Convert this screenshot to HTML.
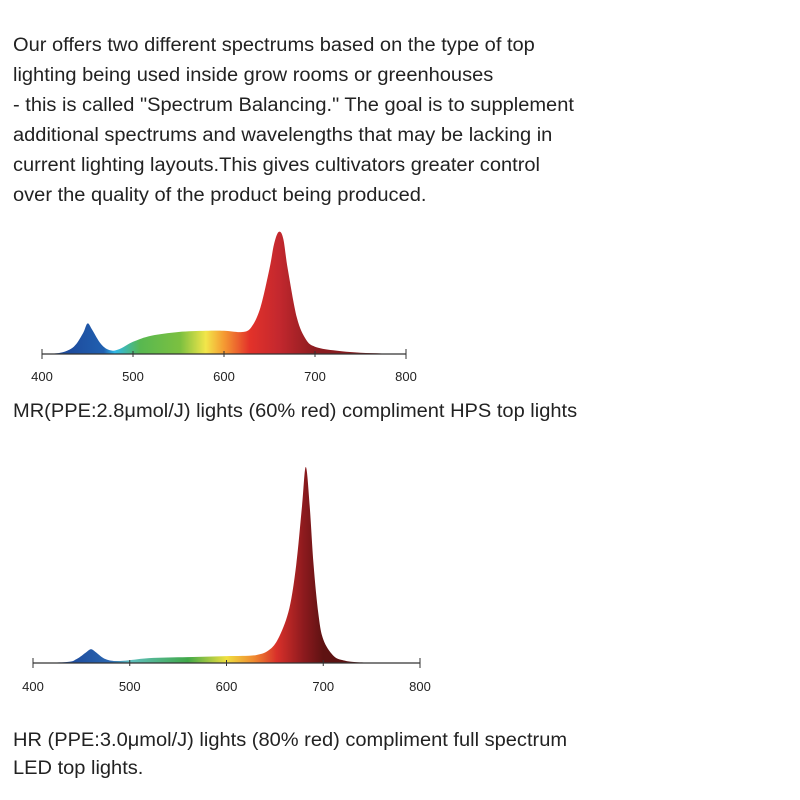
<!DOCTYPE html>
<html><head><meta charset="utf-8">
<style>
body{margin:0;width:800px;height:800px;background:#fff;position:relative;overflow:hidden;font-family:"Liberation Sans",sans-serif;color:#222}
.t{position:absolute;left:13px;font-size:19px;white-space:nowrap;transform:scaleX(1.055);transform-origin:0 0;line-height:30px}
svg{position:absolute;left:0;top:0}
</style></head><body>
<div class="t" style="top:31px">Our offers two different spectrums based on the type of top</div>
<div class="t" style="top:61px">lighting being used inside grow rooms or greenhouses</div>
<div class="t" style="top:91px">- this is called "Spectrum Balancing." The goal is to supplement</div>
<div class="t" style="top:121px">additional spectrums and wavelengths that may be lacking in</div>
<div class="t" style="top:151px">current lighting layouts.This gives cultivators greater control</div>
<div class="t" style="top:181px">over the quality of the product being produced.</div>
<div class="t" style="top:397px">MR(PPE:2.8μmol/J) lights (60% red) compliment HPS top lights</div>
<div class="t" style="top:726px">HR (PPE:3.0μmol/J) lights (80% red) compliment full spectrum</div>
<div class="t" style="top:754px">LED top lights.</div>
<svg id="svg" width="800" height="800">
<defs>
<linearGradient id="g1" gradientUnits="userSpaceOnUse" x1="42" x2="406" y1="0" y2="0">
<stop offset="0.08" stop-color="#1e4c9e"/><stop offset="0.17" stop-color="#2060b0"/><stop offset="0.2" stop-color="#30b8e8"/>
<stop offset="0.27" stop-color="#58b850"/><stop offset="0.38" stop-color="#7cc040"/><stop offset="0.45" stop-color="#f2e64a"/>
<stop offset="0.5" stop-color="#f59a32"/><stop offset="0.57" stop-color="#e3322a"/><stop offset="0.65" stop-color="#c4282e"/>
<stop offset="0.75" stop-color="#8c1c20"/><stop offset="1" stop-color="#7a1a1e"/></linearGradient>
<linearGradient id="g2" gradientUnits="userSpaceOnUse" x1="33" x2="420" y1="0" y2="0">
<stop offset="0.1" stop-color="#1e4c9e"/><stop offset="0.2" stop-color="#2a66b0"/><stop offset="0.25" stop-color="#60c0c0"/>
<stop offset="0.4" stop-color="#40a848"/><stop offset="0.5" stop-color="#f0e040"/><stop offset="0.57" stop-color="#f08a30"/>
<stop offset="0.63" stop-color="#d8302a"/><stop offset="0.7" stop-color="#8c1a1e"/><stop offset="0.75" stop-color="#5e1212"/><stop offset="1" stop-color="#501010"/></linearGradient>
</defs>
</svg>
<script>
const ticks=[400,500,600,700,800];
const mrWl=[400,420,435,445,450,455,465,475,485,500,520,550,580,600,620,630,640,650,655,660,665,670,680,690,700,720,750,780,800];
const mrVal=[0,1,6,17,25,20,8,3,4,10,15,18,19,19,18,22,38,70,90,100,95,70,30,12,6,3,1,0.3,0];
const hrWl=[400,435,445,455,460,465,475,490,520,560,600,630,645,655,665,672,678,682,686,690,695,700,710,720,740,800];
const hrVal=[0,0.5,2,5.5,7,5.5,2,1,2.5,3,3.5,4,7,14,28,50,80,100,80,50,25,12,4,1.5,0.3,0];
const NS='http://www.w3.org/2000/svg';
const svg=document.getElementById('svg');
function draw(wl,val,x0,x1,base,h,grad,labY,nm){
  const x=w=>x0+(w-400)/400*(x1-x0), y=v=>base-v/100*h;
  const P=wl.map((w,i)=>[x(w),y(val[i])]);
  let d='M'+P[0][0]+','+base+' L'+P[0][0]+','+P[0][1];
  for(let i=0;i<P.length-1;i++){
    const p0=P[Math.max(0,i-1)],p1=P[i],p2=P[i+1],p3=P[Math.min(P.length-1,i+2)];
    const c1=[p1[0]+(p2[0]-p0[0])/6,p1[1]+(p2[1]-p0[1])/6];
    const c2=[p2[0]-(p3[0]-p1[0])/6,p2[1]-(p3[1]-p1[1])/6];
    d+=' C'+c1[0].toFixed(1)+','+Math.min(base,c1[1]).toFixed(1)+' '+c2[0].toFixed(1)+','+Math.min(base,c2[1]).toFixed(1)+' '+p2[0].toFixed(1)+','+p2[1].toFixed(1);
  }
  d+=' L'+P[P.length-1][0]+','+base+' Z';
  const p=document.createElementNS(NS,'path');p.setAttribute('d',d);p.setAttribute('fill','url(#'+grad+')');
  
  
  svg.appendChild(p);
  const l=document.createElementNS(NS,'line');l.setAttribute('x1',x0);l.setAttribute('x2',x1);l.setAttribute('y1',base);l.setAttribute('y2',base);l.setAttribute('stroke','#333');l.setAttribute('stroke-width','1.3');
  
  
  svg.appendChild(l);
  ticks.forEach((t,i)=>{
    const e=i==0||i==ticks.length-1?5:3;
    const k=document.createElementNS(NS,'line');k.setAttribute('x1',x(t));k.setAttribute('x2',x(t));k.setAttribute('y1',base-e);k.setAttribute('y2',base+e);k.setAttribute('stroke','#333');
    
    
    svg.appendChild(k);
    const tx=document.createElementNS(NS,'text');tx.setAttribute('x',x(t));tx.setAttribute('y',labY);tx.setAttribute('text-anchor','middle');tx.setAttribute('font-size','13');tx.setAttribute('fill','#222');tx.setAttribute('font-family','Liberation Sans, sans-serif');tx.textContent=t;
    
    
    svg.appendChild(tx);
  });
}
draw(mrWl,mrVal,42,406,354,122,'g1',381,'mr');
draw(hrWl,hrVal,33,420,663,196,'g2',691,'hr');
</script>
</body></html>
